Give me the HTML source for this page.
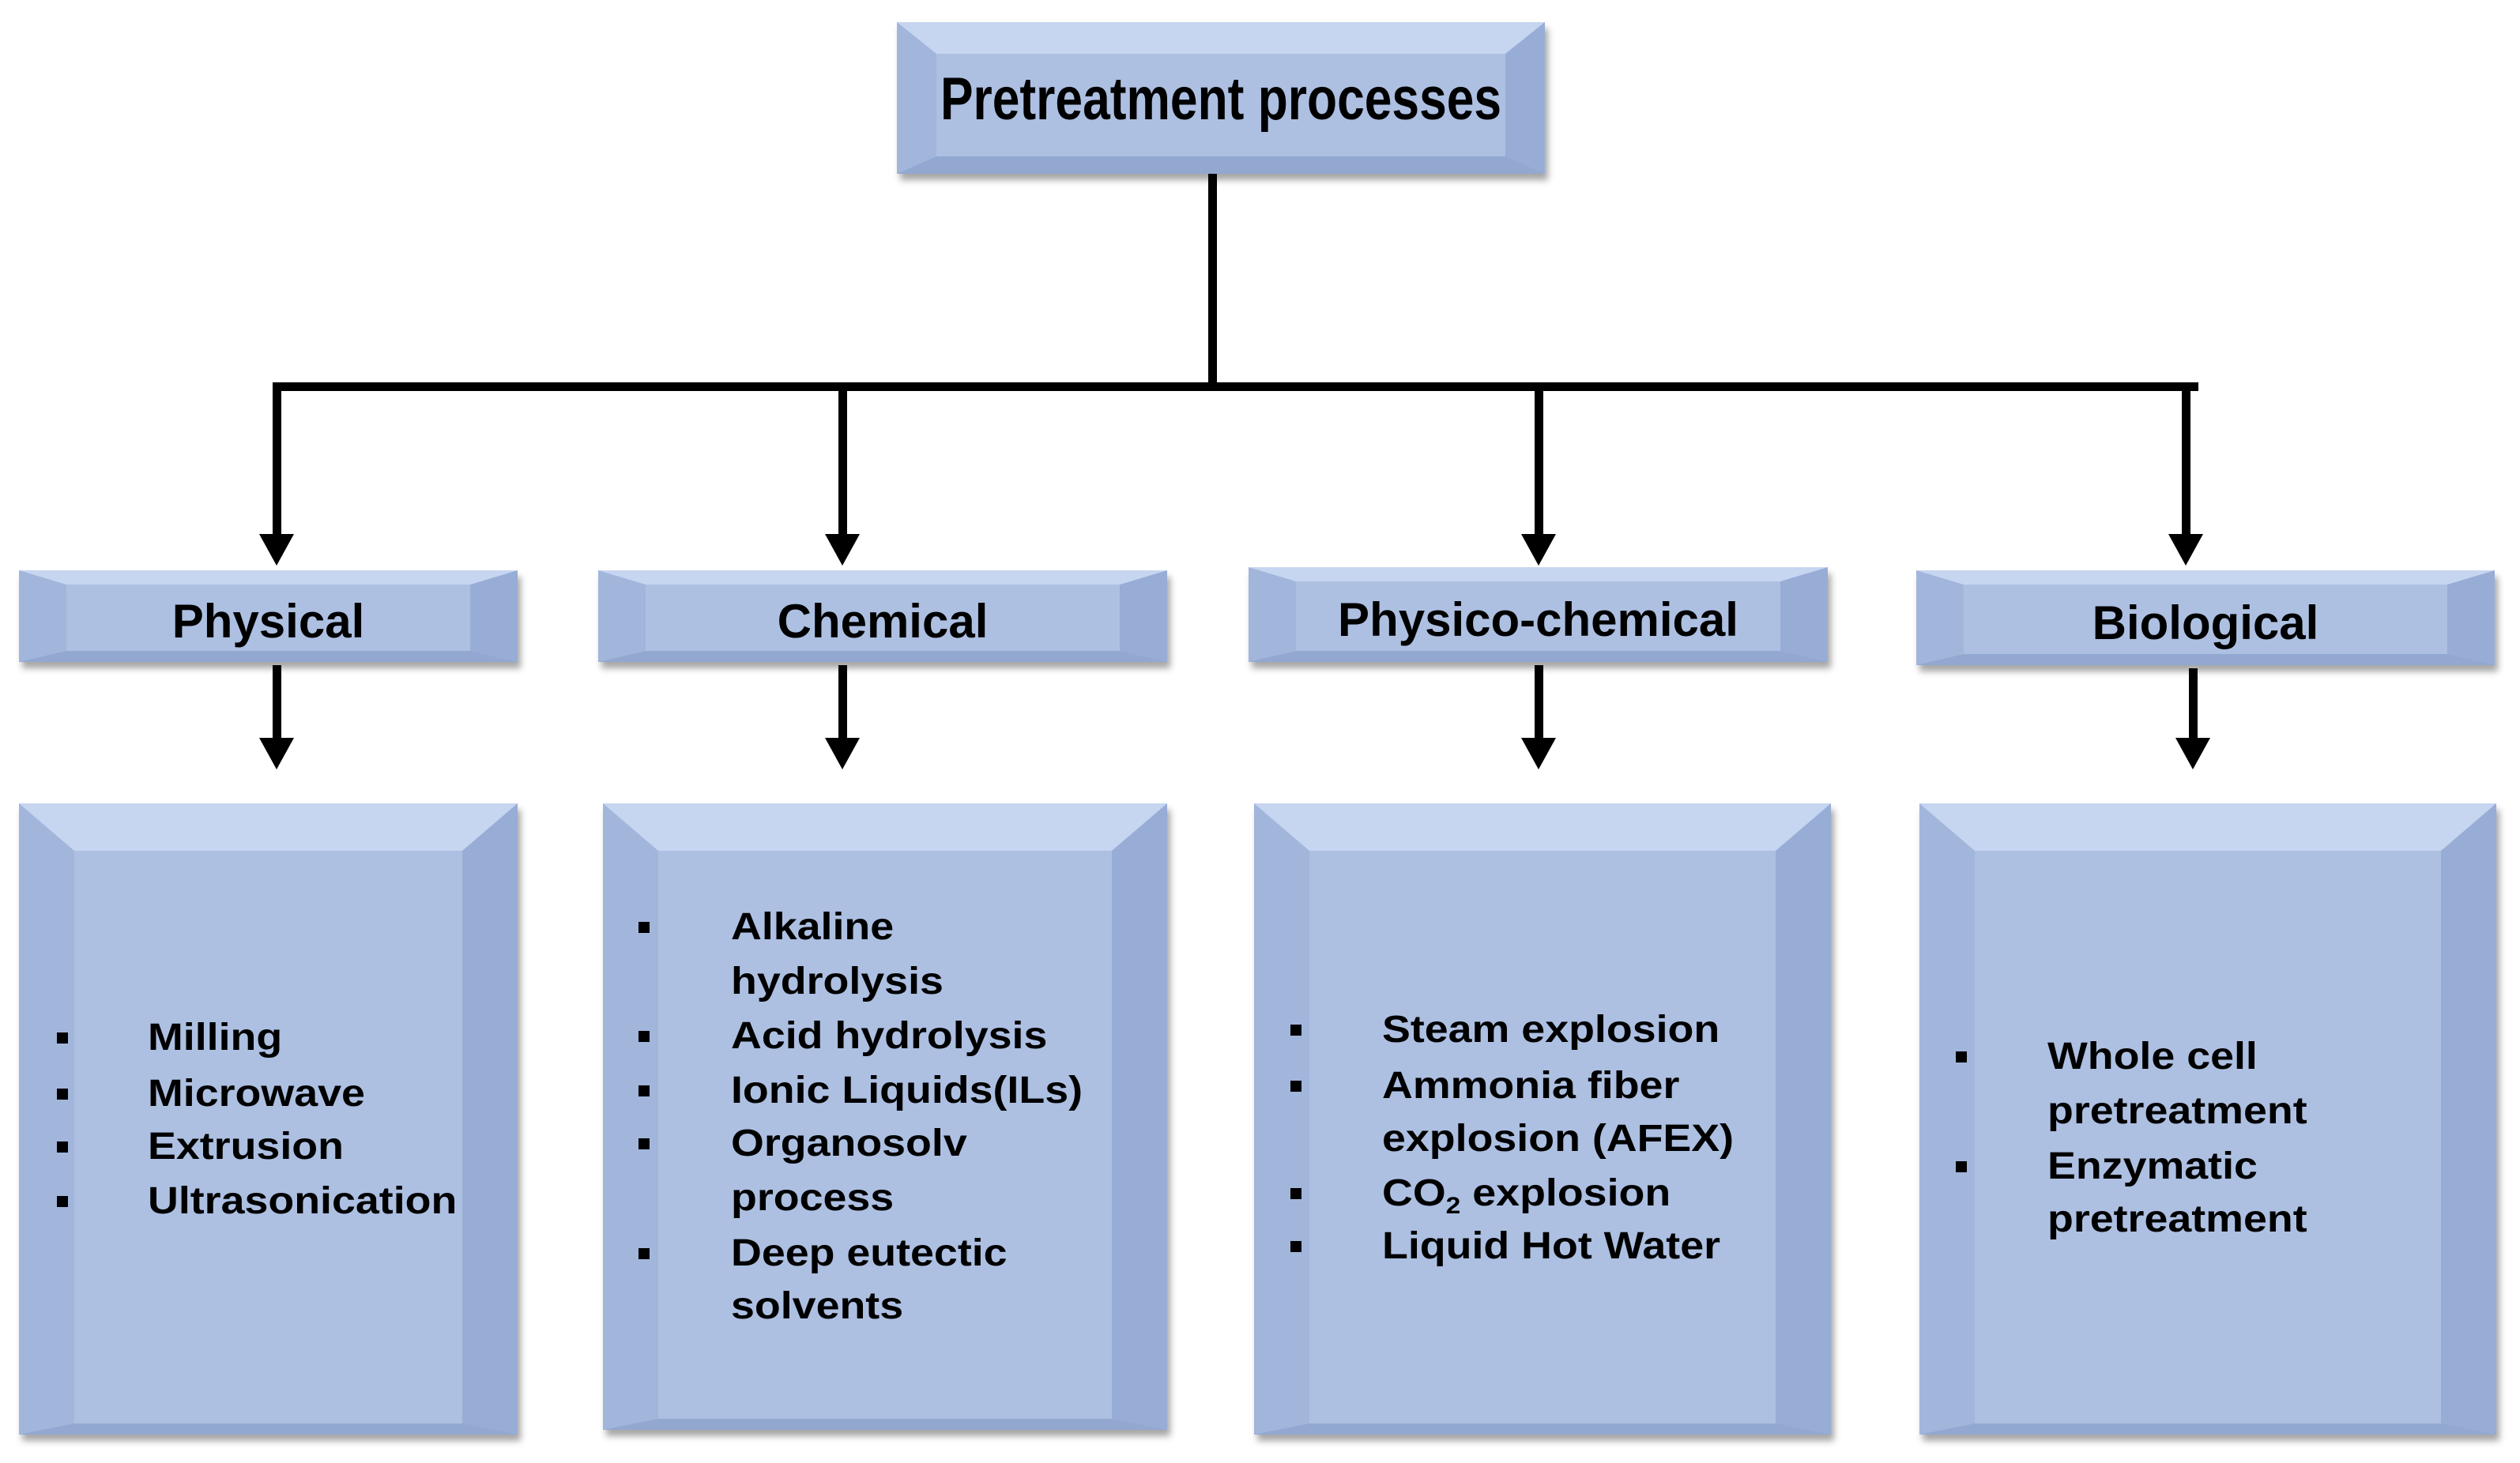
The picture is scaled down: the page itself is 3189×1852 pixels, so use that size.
<!DOCTYPE html>
<html><head><meta charset="utf-8"><style>
body{margin:0;width:3189px;height:1852px;background:#fff;position:relative;overflow:hidden;font-family:"Liberation Sans",Arial,sans-serif;font-weight:bold;color:#000}
.bx{position:absolute;box-sizing:border-box;background:#adc0e2;border-style:solid;border-color:#c6d5f0 #98add6 #92a8d0 #a2b6dc;box-shadow:4px 8px 8px rgba(0,0,0,0.35)}
.lbl{position:absolute;left:-200px;right:-200px;text-align:center;white-space:nowrap}
.ln{position:absolute;background:#000}
.ah{position:absolute;width:0;height:0;border-left:22px solid transparent;border-right:22px solid transparent;border-top:40px solid #000}
.it{position:absolute;font-size:48px;line-height:48px;white-space:nowrap;transform:scaleX(1.12);transform-origin:left}
.b{position:absolute;width:14px;height:14px;background:#000}
</style></head><body>
<div class="bx" style="left:1135px;top:28px;width:820px;height:192px;border-width:40px 50px 22px 50px">
<div class="lbl" style="top:14px;font-size:76px;transform:scaleX(0.82)">Pretreatment processes</div></div>
<div class="ln" style="left:1529px;top:220px;width:11px;height:272px"></div>
<div class="ln" style="left:345px;top:484px;width:2437px;height:11px"></div>
<div class="ln" style="left:345px;top:490px;width:11px;height:190px"></div><div class="ah" style="left:328px;top:676px"></div>
<div class="ln" style="left:1061px;top:490px;width:11px;height:190px"></div><div class="ah" style="left:1044px;top:676px"></div>
<div class="ln" style="left:1942px;top:490px;width:11px;height:190px"></div><div class="ah" style="left:1925px;top:676px"></div>
<div class="ln" style="left:2761px;top:490px;width:11px;height:190px"></div><div class="ah" style="left:2744px;top:676px"></div>

<div class="bx" style="left:24px;top:722px;width:631px;height:116px;border-width:18px 60px 14px 60px"><div class="lbl" style="top:12px;font-size:60px">Physical</div></div>
<div class="bx" style="left:757px;top:722px;width:720px;height:116px;border-width:18px 60px 14px 60px"><div class="lbl" style="top:12px;font-size:60px">Chemical</div></div>
<div class="bx" style="left:1580px;top:718px;width:733px;height:120px;border-width:18px 60px 14px 60px"><div class="lbl" style="top:14px;font-size:60px">Physico-chemical</div></div>
<div class="bx" style="left:2425px;top:722px;width:732px;height:120px;border-width:18px 60px 14px 60px"><div class="lbl" style="top:14px;font-size:60px">Biological</div></div>

<div class="ln" style="left:345px;top:842px;width:11px;height:100px"></div><div class="ah" style="left:328px;top:934px"></div>
<div class="ln" style="left:1061px;top:842px;width:11px;height:100px"></div><div class="ah" style="left:1044px;top:934px"></div>
<div class="ln" style="left:1942px;top:842px;width:11px;height:100px"></div><div class="ah" style="left:1925px;top:934px"></div>
<div class="ln" style="left:2770px;top:846px;width:11px;height:96px"></div><div class="ah" style="left:2753px;top:934px"></div>

<div class="bx" style="left:24px;top:1017px;width:631px;height:799px;border-width:60px 70px 14px 70px"></div>
<div class="bx" style="left:763px;top:1017px;width:714px;height:793px;border-width:60px 70px 14px 70px"></div>
<div class="bx" style="left:1587px;top:1017px;width:730px;height:799px;border-width:60px 70px 14px 70px"></div>
<div class="bx" style="left:2429px;top:1017px;width:730px;height:799px;border-width:60px 70px 14px 70px"></div>

<!-- Physical -->
<div class="b" style="left:72px;top:1307px"></div><div class="it" style="left:187px;top:1290px">Milling</div>
<div class="b" style="left:72px;top:1378px"></div><div class="it" style="left:187px;top:1361px">Microwave</div>
<div class="b" style="left:72px;top:1445px"></div><div class="it" style="left:187px;top:1428px">Extrusion</div>
<div class="b" style="left:72px;top:1514px"></div><div class="it" style="left:187px;top:1497px">Ultrasonication</div>
<!-- Chemical -->
<div class="b" style="left:808px;top:1167px"></div><div class="it" style="left:925px;top:1150px">Alkaline</div>
<div class="it" style="left:925px;top:1219px">hydrolysis</div>
<div class="b" style="left:808px;top:1305px"></div><div class="it" style="left:925px;top:1288px">Acid hydrolysis</div>
<div class="b" style="left:808px;top:1374px"></div><div class="it" style="left:925px;top:1357px">Ionic Liquids(ILs)</div>
<div class="b" style="left:808px;top:1441px"></div><div class="it" style="left:925px;top:1424px">Organosolv</div>
<div class="it" style="left:925px;top:1493px">process</div>
<div class="b" style="left:808px;top:1580px"></div><div class="it" style="left:925px;top:1563px">Deep eutectic</div>
<div class="it" style="left:925px;top:1630px">solvents</div>
<!-- Physico-chemical -->
<div class="b" style="left:1633px;top:1297px"></div><div class="it" style="left:1749px;top:1280px">Steam explosion</div>
<div class="b" style="left:1633px;top:1368px"></div><div class="it" style="left:1749px;top:1351px">Ammonia fiber</div>
<div class="it" style="left:1749px;top:1418px">explosion (AFEX)</div>
<div class="b" style="left:1633px;top:1504px"></div><div class="it" style="left:1749px;top:1487px">CO<span style="font-size:30px;vertical-align:-10px">2</span> explosion</div>
<div class="b" style="left:1633px;top:1571px"></div><div class="it" style="left:1749px;top:1554px">Liquid Hot Water</div>
<!-- Biological -->
<div class="b" style="left:2475px;top:1331px"></div><div class="it" style="left:2591px;top:1314px">Whole cell</div>
<div class="it" style="left:2591px;top:1383px">pretreatment</div>
<div class="b" style="left:2475px;top:1470px"></div><div class="it" style="left:2591px;top:1453px">Enzymatic</div>
<div class="it" style="left:2591px;top:1520px">pretreatment</div>
</body></html>
